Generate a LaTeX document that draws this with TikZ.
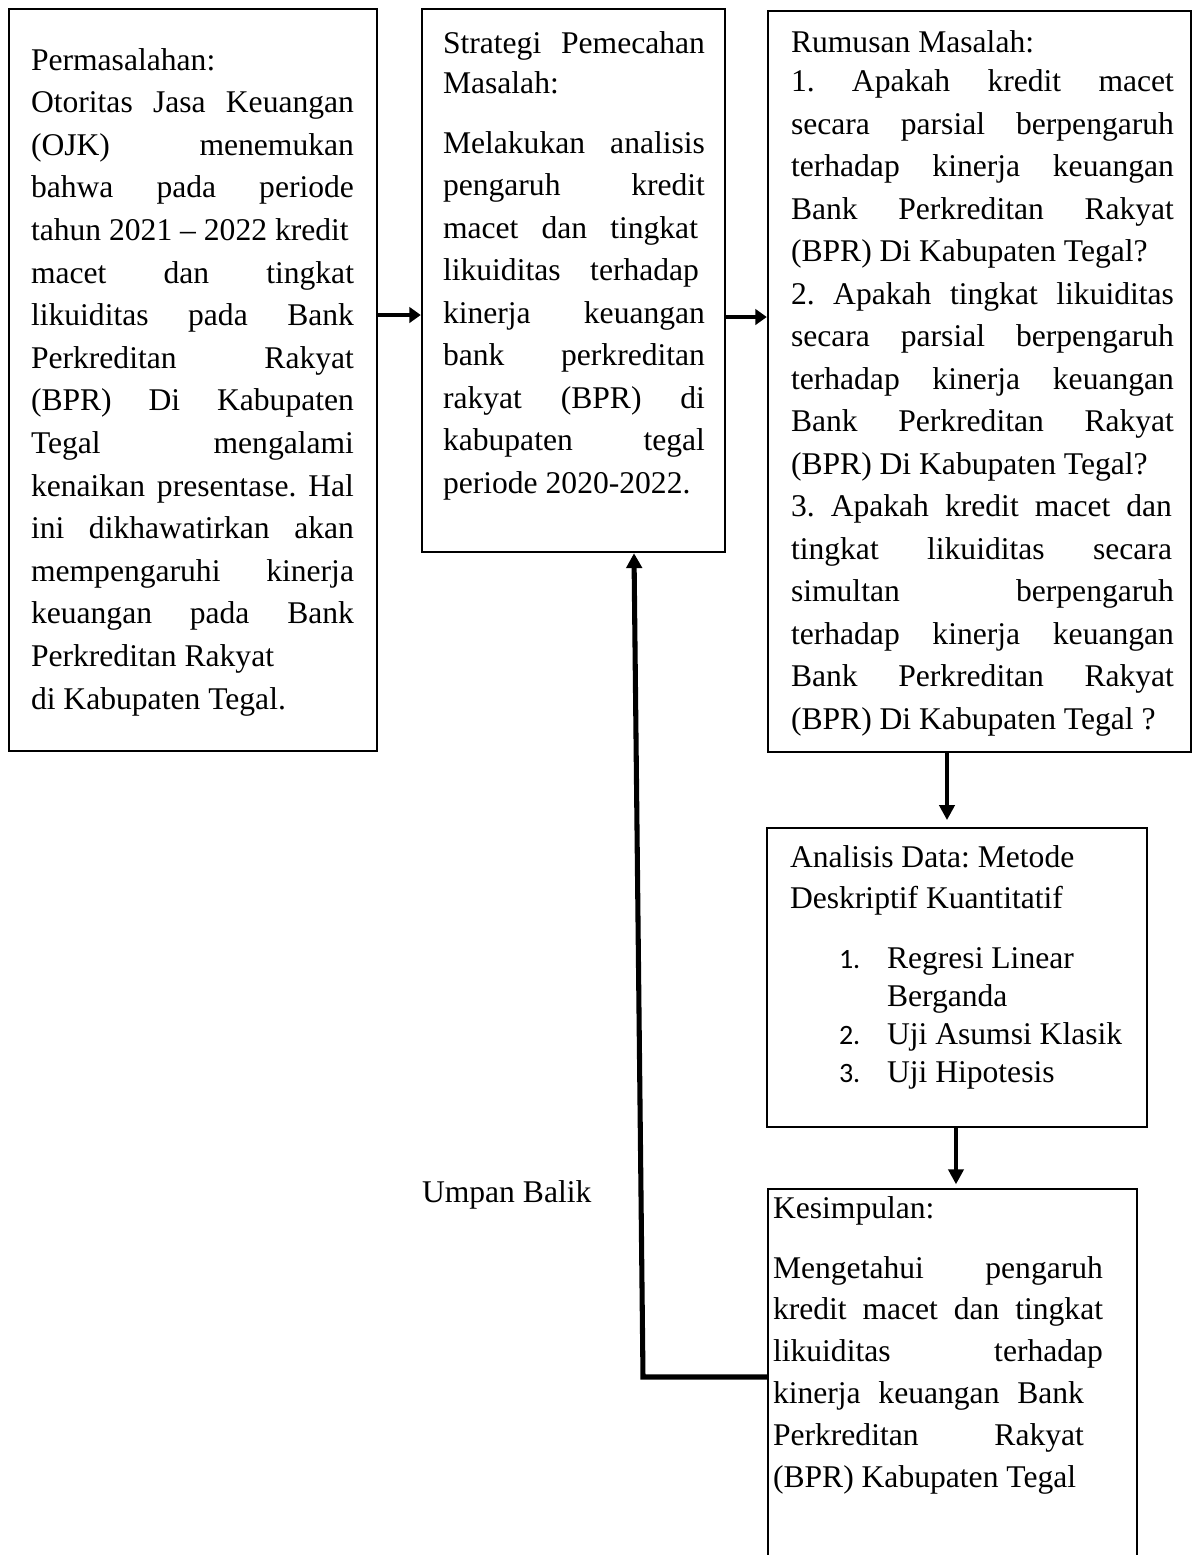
\documentclass[tikz,border=0pt]{standalone}
\usepackage{fontspec}
\setmainfont{Liberation Serif}
\newfontfamily\numf{Carlito}
\usetikzlibrary{arrows.meta,fit}
\newlength\upx \setlength\upx{0.375pt}
\newcommand\J[2]{\hbox to #1\upx{#2}}
\newcommand\N[1]{\hbox{#1}}
\newcommand\G[1]{\vskip #1\upx}
\newcommand\Lines[2]{\vtop{\frenchspacing\baselineskip=#1\upx\lineskiplimit=-100pt\lineskip=0pt #2}}
\newcommand\Itm[2]{\hbox{\hbox to 48\upx{\numf\fontsize{10.5pt}{12pt}\selectfont #1\hfil}#2}}
\begin{document}
\begin{tikzpicture}[x=0.375pt,y=-0.375pt,
  font=\fontsize{11.85pt}{14pt}\selectfont\frenchspacing,
  box/.style={draw, line width=0.9pt, inner sep=0pt},
  txt/.style={inner sep=0pt, outer sep=0pt, anchor=base west},
  harr/.style={line width=1.8pt, -{Triangle[length=4.3pt,width=5.8pt]}},
  varr/.style={line width=1.6pt, -{Triangle[length=5.6pt,width=5.6pt]}},
  fbline/.style={line width=1.9pt, -{Triangle[length=5.6pt,width=5.8pt]}}]
\useasboundingbox (0,0) rectangle (1198,1555);
\clip (0,0) rectangle (1198,1555);
\fill[white] (0,0) rectangle (1198,1555);

% boxes
\node[box, fit={(9,9) (376.7,750.7)}] (b1) {};
\node[box, fit={(422,9) (725,552)}] (b2) {};
\node[box, fit={(768,11) (1191,752)}] (b3) {};
\node[box, fit={(767,828) (1147,1127)}] (b4) {};
\node[box, fit={(768,1189) (1137,1580)}] (b5) {};

% texts
\node[txt] (t1) at (31,70) {\Lines{42.6}{%
\N{Permasalahan:}
\J{323}{Otoritas Jasa Keuangan}
\J{323}{(OJK) menemukan}
\J{323}{bahwa pada periode}
\N{tahun 2021 – 2022 kredit}
\J{323}{macet dan tingkat}
\J{323}{likuiditas pada Bank}
\J{323}{Perkreditan Rakyat}
\J{323}{(BPR) Di Kabupaten}
\J{323}{Tegal mengalami}
\J{323}{kenaikan presentase. Hal}
\J{323}{ini dikhawatirkan akan}
\J{323}{mempengaruhi kinerja}
\J{323}{keuangan pada Bank}
\N{Perkreditan Rakyat}
\N{di Kabupaten Tegal.}}};

\node[txt] (t2) at (443,53) {\Lines{42.5}{%
\J{262}{Strategi Pemecahan}
\G{-2.5}
\N{Masalah:}
\G{17.5}
\J{262}{Melakukan analisis}
\J{262}{pengaruh kredit}
\J{255}{macet dan tingkat}
\J{256}{likuiditas terhadap}
\J{262}{kinerja keuangan}
\J{262}{bank perkreditan}
\J{262}{rakyat (BPR) di}
\J{262}{kabupaten tegal}
\N{periode 2020-2022.}}};

\node[txt] (t3) at (791,52) {\Lines{42.5}{%
\N{Rumusan Masalah:}
\G{-3}
\J{383}{1. Apakah kredit macet}
\J{383}{secara parsial berpengaruh}
\J{383}{terhadap kinerja keuangan}
\J{383}{Bank Perkreditan Rakyat}
\N{(BPR) Di Kabupaten Tegal?}
\J{383}{2. Apakah tingkat likuiditas}
\J{383}{secara parsial berpengaruh}
\J{383}{terhadap kinerja keuangan}
\J{383}{Bank Perkreditan Rakyat}
\N{(BPR) Di Kabupaten Tegal?}
\J{381}{3. Apakah kredit macet dan}
\J{381}{tingkat likuiditas secara}
\J{383}{simultan berpengaruh}
\J{383}{terhadap kinerja keuangan}
\J{383}{Bank Perkreditan Rakyat}
\N{(BPR) Di Kabupaten Tegal ?}}};

\node[txt] (t4) at (790,867) {\Lines{41}{%
\N{Analisis Data: Metode}
\N{Deskriptif Kuantitatif}}};

\node[txt] (t4l) at (839,968) {\Lines{38.3}{%
\Itm{1.}{Regresi Linear}
\Itm{}{Berganda}
\Itm{2.}{Uji Asumsi Klasik}
\Itm{3.}{Uji Hipotesis}}};

\node[txt] (t5) at (773,1218) {\Lines{41.8}{%
\N{Kesimpulan:}
\G{18.2}
\J{330}{Mengetahui pengaruh}
\J{330}{kredit macet dan tingkat}
\J{330}{likuiditas terhadap}
\J{311}{kinerja keuangan Bank}
\J{311}{Perkreditan Rakyat}
\N{(BPR) Kabupaten Tegal}}};

\node[txt] (ub) at (422,1202) {Umpan Balik};

% connectors
\coordinate (ya) at (0,315);
\coordinate (yb) at (0,317);
\coordinate (xc) at (947,0);
\coordinate (xd) at (956,0);
\coordinate (fbc) at (643,1377);
\coordinate (fbt) at (634,0);

\draw[harr] (b1.east |- ya) -- (b2.west |- ya);
\draw[harr] (b2.east |- yb) -- (b3.west |- yb);
\draw[varr, shorten >=2.5pt] (b3.south -| xc) -- (b4.north -| xc);
\draw[varr, shorten >=1.3pt] (b4.south -| xd) -- (b5.north -| xd);
\draw[fbline] (b5.west |- fbc) -- (fbc) -- (b2.south -| fbt);
\end{tikzpicture}
\end{document}
